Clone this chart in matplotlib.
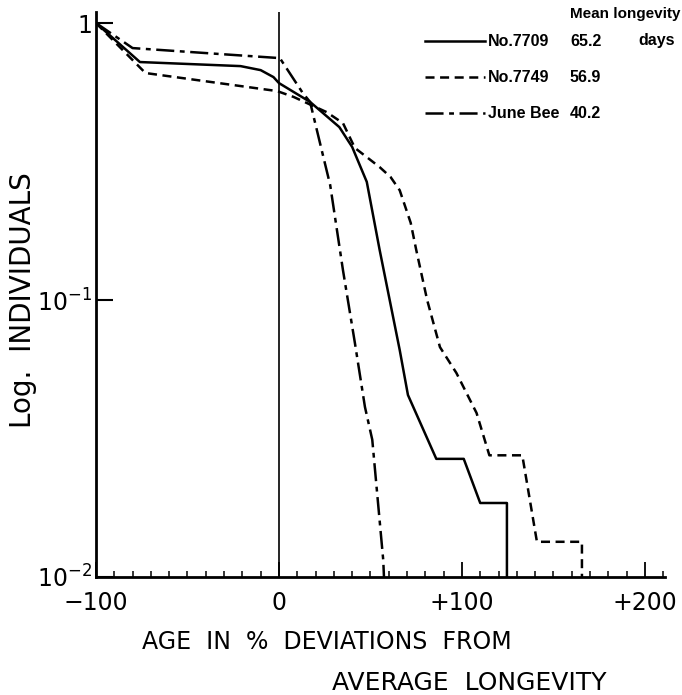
import matplotlib
matplotlib.use("Agg")
from matplotlib import pyplot as plt
from matplotlib.lines import Line2D

plt.rcParams['font.family'] = ['DejaVu Sans']
plt.rcParams['lines.scale_dashes'] = False

# survival curves (x = % deviation, y = fraction alive)
x7709 = [-100, -76, -21, -10, -3, 0, 17, 33, 40, 48, 55, 66, 70.5, 86, 101, 110, 124.6, 124.6]
y7709 = [1, 0.723, 0.699, 0.676, 0.638, 0.607, 0.519, 0.421, 0.357, 0.267, 0.152, 0.066,
         0.0454, 0.0267, 0.0267, 0.0185, 0.0185, 0.01]

x7749 = [-100, -73, -1, 8, 26, 35, 41.5, 48, 55, 61, 66, 72, 75, 81, 88, 97, 108, 115,
         133, 141, 165.6, 165.6]
y7749 = [1, 0.660, 0.568, 0.541, 0.477, 0.435, 0.354, 0.328, 0.302, 0.278, 0.249, 0.190,
         0.152, 0.1, 0.0676, 0.0545, 0.0391, 0.0275, 0.0275, 0.0134, 0.0134, 0.01]

xjune = [-100, -80, 0.5, 13, 17, 24, 28, 35, 41.5, 47, 51, 57, 57.4]
yjune = [1, 0.812, 0.747, 0.559, 0.519, 0.334, 0.26, 0.128, 0.070, 0.0411, 0.0313, 0.0115, 0.01]

names = ["No.7709", "No.7749", "June Bee"]
means = ["65.2", "56.9", "40.2"]

xticks = [-100, 0, 100, 200]
xticklabels = ["\u2212100", "0", "+100", "+200"]
yticks = [0.01, 0.1, 1]
yticklabels = [r"$10^{-2}$", r"$10^{-1}$", "1"]

fig = plt.figure(figsize=(6.82, 6.95), dpi=100)
ax = fig.add_axes([96 / 682, 1 - 577 / 695, 569 / 682, 565 / 695])

styles = [
    dict(color="black", lw=1.8, ls="-"),
    dict(color="black", lw=1.8, dashes=(6.5, 4)),
    dict(color="black", lw=1.8, dashes=(13, 4, 3.5, 4)),
]

ax.plot(x7709, y7709, **styles[0])
ax.plot(x7749, y7749, **styles[1])
ax.plot(xjune, yjune, **styles[2])
ax.axvline(0, color="black", lw=1.2)

ax.set_yscale("log")
ax.set_xlim(-100, 211)
ax.set_ylim(0.01, 1.096)

for s in ["top", "right"]:
    ax.spines[s].set_visible(False)
for s in ["left", "bottom"]:
    ax.spines[s].set_linewidth(2.0)

ax.set_xticks(xticks)
ax.set_xticklabels(xticklabels, fontsize=17)
ax.set_xticks(range(-90, 211, 10), minor=True)
ax.tick_params(axis="x", which="major", direction="in", length=11, width=1.3, pad=10)
ax.tick_params(axis="x", which="minor", direction="in", length=4, width=1.1)

ax.set_yticks(yticks)
ax.set_yticklabels(yticklabels, fontsize=17)
ax.yaxis.set_minor_locator(matplotlib.ticker.NullLocator())
ax.tick_params(axis="y", which="major", direction="in", length=12, width=1.5, pad=3)

fig.text(23 / 682, 1 - 300 / 695, "Log.  INDIVIDUALS", rotation=90, fontsize=20,
         ha="center", va="center")
fig.text(327 / 682, 1 - 642 / 695, "AGE  IN  %  DEVIATIONS  FROM", fontsize=17,
         ha="center", va="center")
fig.text(469 / 682, 1 - 683 / 695, "AVERAGE  LONGEVITY", fontsize=18,
         ha="center", va="center")

# legend block, top right
fig.text(625 / 682, 1 - 14 / 695, "Mean longevity", fontsize=11, fontweight="bold",
         family="Liberation Sans", ha="center", va="center")
rows = [41, 77, 113]
for i, r in enumerate(rows):
    yy = 1 - r / 695
    fig.add_artist(Line2D([425 / 682, 485 / 682], [yy, yy], transform=fig.transFigure,
                          **styles[i]))
    fig.text(488 / 682, yy, names[i], fontsize=11.5, fontweight="bold",
             family="Liberation Sans", ha="left", va="center")
    fig.text(570 / 682, yy, means[i], fontsize=11.5, fontweight="bold",
             family="Liberation Sans", ha="left", va="center")
fig.text(638 / 682, 1 - rows[0] / 695, "days", fontsize=11.5, fontweight="bold",
         family="Liberation Sans", ha="left", va="center")

fig.savefig("out.png", dpi=100)
